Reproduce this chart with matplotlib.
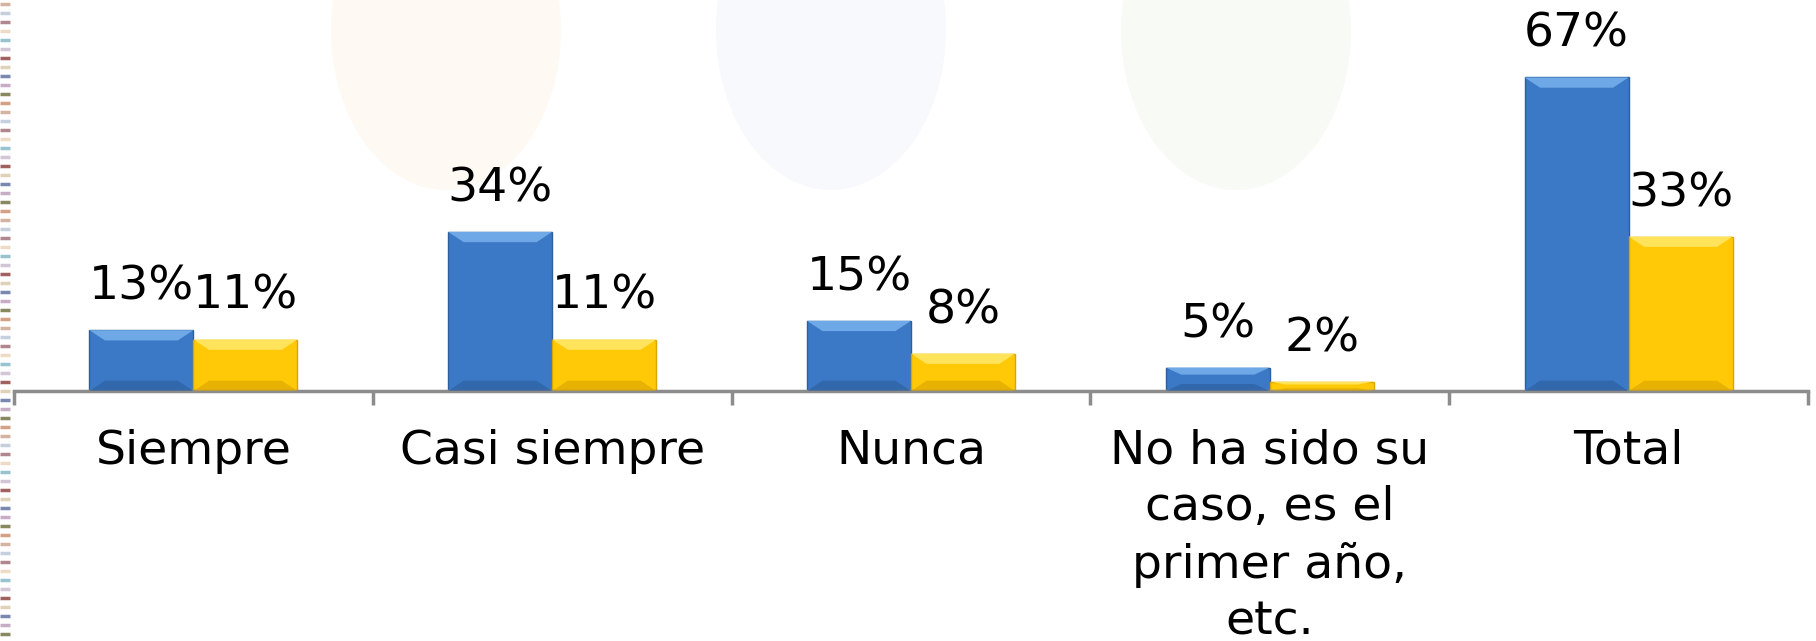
import numpy as np
import matplotlib
matplotlib.use("Agg")
import matplotlib.pyplot as plt
from matplotlib.patches import Ellipse, Polygon

# data
categories = ["Siempre", "Casi siempre", "Nunca",
              "No ha sido su\ncaso, es el\nprimer año,\netc.", "Total"]
serie_azul = [13, 34, 15, 5, 67]
serie_amarilla = [11, 11, 8, 2, 33]

COL_AZUL = "#3b78c6"
COL_AMARILLO = "#ffc907"

fig = plt.figure(figsize=(18.16, 6.41), dpi=100)
fig.patch.set_facecolor("white")

# faint watermark + decorative stripe on the left edge
bg = fig.add_axes([0, 0, 1, 1], zorder=0)
bg.set_xlim(0, 1816)
bg.set_ylim(641, 0)
bg.axis("off")
for cx, col in [(446, "#fefaf3"), (831, "#f7f9fc"), (1236, "#f8fbf5")]:
    bg.add_patch(Ellipse((cx, 30), 230, 320, color=col, lw=0))
stripe_cols = ["#c9a08a", "#b7c4d6", "#9a6a72", "#e9d3b8", "#7fb4c4", "#c8b8cc",
               "#8a3a3a", "#d6c8a8", "#5a6a9a", "#b89ab8", "#6a6a3a", "#c88a6a"]
for i, yy in enumerate(range(4, 641, 9)):
    bg.plot([0, 10], [yy, yy], color=stripe_cols[i % len(stripe_cols)], lw=2.5,
            solid_capstyle="butt", alpha=0.8)

ax = fig.add_axes([14 / 1816, (641 - 391) / 641, 1794 / 1816, 351 / 641], zorder=1)
ax.patch.set_alpha(0)

x = np.arange(len(categories))
w = 0.29
b1 = ax.bar(x - w / 2, serie_azul, w, color=COL_AZUL, edgecolor="#2d5f9e", lw=1)
b2 = ax.bar(x + w / 2, serie_amarilla, w, color=COL_AMARILLO, edgecolor="#d9a600", lw=1)


def bevel(bars, light, dark):
    # simple bevel look: light band on top, dark on bottom
    for p in bars.patches:
        x0, y0 = p.get_x(), p.get_y()
        x1, y1 = x0 + p.get_width(), y0 + p.get_height()
        d = min(0.045, p.get_width() * 0.15)
        dy = min(2.2, p.get_height() * 0.3)
        ax.add_patch(Polygon([(x0, y1), (x1, y1), (x1 - d, y1 - dy), (x0 + d, y1 - dy)],
                             color=light, lw=0, zorder=3))
        ax.add_patch(Polygon([(x0, y0), (x1, y0), (x1 - d, y0 + dy), (x0 + d, y0 + dy)],
                             color=dark, lw=0, zorder=3, alpha=0.6))


bevel(b1, "#6fa8e6", "#2b5c9a")
bevel(b2, "#ffe35a", "#d9a300")

for bars, vals in [(b1, serie_azul), (b2, serie_amarilla)]:
    for p, v in zip(bars.patches, vals):
        ax.annotate(f"{v}%", (p.get_x() + p.get_width() / 2, v),
                    xytext=(0, 22), textcoords="offset points",
                    ha="center", va="baseline", fontsize=34, color="black")

ax.set_xlim(-0.5, len(categories) - 0.5)
ax.set_ylim(0, 75)

for s in ["top", "right", "left"]:
    ax.spines[s].set_visible(False)
ax.spines["bottom"].set_color("#8c8c8c")
ax.spines["bottom"].set_linewidth(2.5)
ax.set_yticks([])

ax.set_xticks(np.arange(len(categories) + 1) - 0.5)
ax.set_xticklabels([])
ax.tick_params(axis="x", which="major", length=10, width=2.5, color="#8c8c8c")
ax.set_xticks(x, minor=True)
ax.set_xticklabels(categories, minor=True, fontsize=34, linespacing=1.33)
ax.tick_params(axis="x", which="minor", length=0, pad=27)

fig.savefig("out.png", dpi=100)
